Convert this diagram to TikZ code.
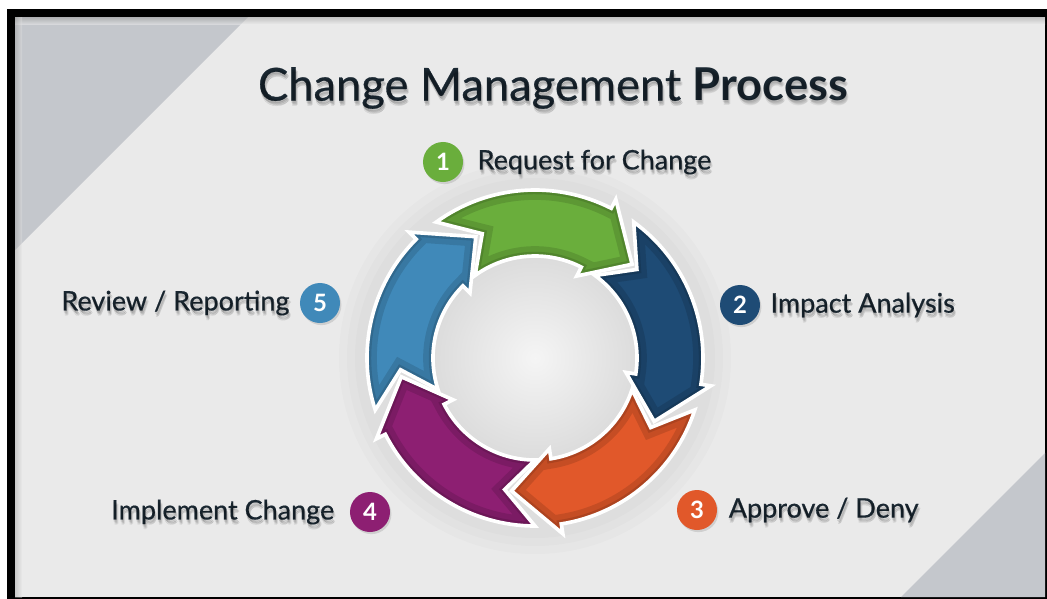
\documentclass[tikz,border=0pt]{standalone}
\usepackage{fontspec}
\setmainfont{Lato}
\newfontfamily\mediumfont{Lato}[FakeBold=0.6]
\usetikzlibrary{positioning,shadows}

\definecolor{bgGray}{HTML}{EAEAEA}
\definecolor{cornerGray}{HTML}{C4C7CC}
\definecolor{inkNavy}{HTML}{1B2832}
\definecolor{stepGreen}{HTML}{6AAE3C}
\definecolor{stepNavy}{HTML}{1E4B75}
\definecolor{stepOrange}{HTML}{E1582A}
\definecolor{stepPurple}{HTML}{8D1F72}
\definecolor{stepBlue}{HTML}{4089B9}

\tikzset{
  badge/.style={circle, fill=#1, text=white, minimum size=1cm, inner sep=0pt,
    font=\bfseries\fontsize{17}{17}\selectfont,
    drop shadow={opacity=0.25, shadow xshift=1pt, shadow yshift=-1.5pt}},
  steplabel/.style={text=inkNavy, inner sep=0pt, font=\mediumfont\fontsize{19.2}{22}\selectfont},
  headline/.style={text=inkNavy, inner sep=0pt, font=\fontsize{32.2}{36}\selectfont},
}

% one arrow of the cycle, #1 = angle of the head base, #2 = colour
\newcommand\ringarrow[2]{%
  \pgfmathsetmacro\tailA{#1+63}%
  \pgfmathsetmacro\notchA{#1+50}%
  \pgfmathsetmacro\tipA{#1-19}%
  \def\arrowshape{(\tailA:168) arc[start angle=\tailA, end angle=#1, radius=168]
    -- (#1:178) -- (\tipA:135) -- (#1:92) -- (#1:102)
    arc[start angle=#1, end angle=\tailA, radius=102] -- (\notchA:135) -- cycle}%
  \begin{scope}
    \clip \arrowshape;
    \fill[#2] \arrowshape;
    \draw[black, opacity=0.12, line width=14pt] \arrowshape;
    \draw[black, opacity=0.12, line width=6pt] \arrowshape;
  \end{scope}
  \draw[white, line width=2.6pt, line join=miter] \arrowshape;
}

% faint copies under a text to give it a soft shadow
\newcommand\castshadow[3]{%
  \foreach \dx/\dy in {0/2,1/3,2/4,1/5}
    \node[#1, text=black, text opacity=0.07] at ([shift={(\dx,\dy)}]#2.center) {#3};}

\begin{document}
\begin{tikzpicture}[x=0.025cm, y=-0.025cm]
  \useasboundingbox (0,0) rectangle (1047,599);
  % frame and backdrop
  \fill[white] (0,0) rectangle (1047,599);
  \fill[black] (7,9) rectangle (1046.5,599);
  \fill[bgGray] (15,17) rectangle (1045,597);
  \fill[cornerGray] (15,17) -- (248,17) -- (15,250) -- cycle;
  \fill[cornerGray] (1045,453) -- (1045,597) -- (901,597) -- cycle;
  \shade[top color=black!40, bottom color=bgGray, opacity=0.5] (15,17) rectangle (1045,24);
  \shade[left color=black!40, right color=bgGray, opacity=0.4] (15,17) rectangle (22,597);

  % soft halo and centre of the ring
  \foreach \r in {196,188,180}
    \fill[black, opacity=0.015] (535,358) circle (\r);
  \shade[inner color=white!96!black, outer color=black!14] (535,358) circle (104);

  \begin{scope}[shift={(535,358)}, y=0.025cm]
    \ringarrow{63}{stepGreen}
    \ringarrow{-9}{stepNavy}
    \ringarrow{-81}{stepOrange}
    \ringarrow{-153}{stepPurple}
    \ringarrow{135}{stepBlue}
  \end{scope}

  % title
  \node[headline] (title) at (553,88) {{\mediumfont Change Management} \textbf{Process}};
  \castshadow{headline}{title}{{\mediumfont Change Management} \textbf{Process}}

  % numbered steps
  \node[badge=stepGreen] (b1) at (443,162) {1};
  \node[badge=stepNavy] (b2) at (740,305) {2};
  \node[badge=stepOrange] (b3) at (697,510) {3};
  \node[badge=stepPurple] (b4) at (370,512) {4};
  \node[badge=stepBlue] (b5) at (320,303) {5};

  \node[steplabel, right=0.35cm of b1] (l1) {Request for Change};
  \node[steplabel, right=0.25cm of b2] (l2) {Impact Analysis};
  \node[steplabel, right=0.28cm of b3] (l3) {Approve / Deny};
  \node[steplabel, left=0.38cm of b4] (l4) {Implement Change};
  \node[steplabel, left=0.25cm of b5] (l5) {Review / Reporting};
  \castshadow{steplabel}{l1}{Request for Change}
  \castshadow{steplabel}{l2}{Impact Analysis}
  \castshadow{steplabel}{l3}{Approve / Deny}
  \castshadow{steplabel}{l4}{Implement Change}
  \castshadow{steplabel}{l5}{Review / Reporting}
\end{tikzpicture}
\end{document}
